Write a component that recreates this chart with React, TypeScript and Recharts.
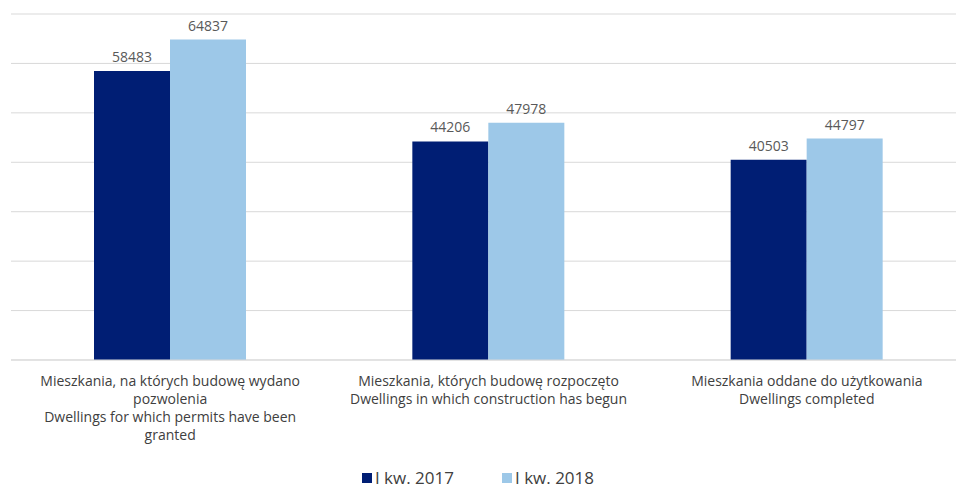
import React from 'react'
import { BarChart, Bar, XAxis, YAxis, CartesianGrid, Legend, LabelList } from 'recharts'

const categories = ['permits', 'started', 'completed']

const categoryLines: string[][] = [
  ['Mieszkania, na których budowę wydano', 'pozwolenia', 'Dwellings for which permits have been', 'granted'],
  ['Mieszkania, których budowę rozpoczęto', 'Dwellings in which construction has begun'],
  ['Mieszkania oddane do użytkowania', 'Dwellings completed'],
]

const q1_2017 = [58483, 44206, 40503]
const q1_2018 = [64837, 47978, 44797]

const seriesNames = ['I kw. 2017', 'I kw. 2018']
const seriesColors = ['#001e74', '#9dc8e8']

const yTicks = [0, 10000, 20000, 30000, 40000, 50000, 60000, 70000]

const FONT = '"Open Sans", sans-serif'

const data = categories.map((c, i) => ({
  key: c,
  a: q1_2017[i],
  b: q1_2018[i],
}))

function CategoryTick(props: any) {
  const { x, y, payload } = props
  const lines = categoryLines[payload.index] || []
  return (
    <g transform={`translate(${x},${y})`}>
      {lines.map((line, i) => (
        <text
          key={i}
          x={0}
          y={14 + i * 18}
          textAnchor="middle"
          dominantBaseline="middle"
          fill="#404040"
          fontSize={14}
          fontFamily={FONT}
        >
          {line}
        </text>
      ))}
    </g>
  )
}

function LegendContent() {
  return (
    <div style={{ display: 'flex', justifyContent: 'center', gap: 48, fontFamily: FONT, fontSize: 17, color: '#404040' }}>
      {seriesNames.map((name, i) => (
        <div key={name} style={{ display: 'flex', alignItems: 'center' }}>
          <span style={{ display: 'inline-block', width: 10, height: 10, background: seriesColors[i], marginRight: 3 }} />
          <span>{name}</span>
        </div>
      ))}
    </div>
  )
}

export default function App() {
  return (
    <div style={{ position: 'fixed', left: 0, top: 0, width: 956, height: 489, overflow: 'hidden', background: '#fff' }}>
      <BarChart
        width={966}
        height={489}
        data={data}
        margin={{ top: 14, right: 0, left: 11, bottom: 0 }}
        barCategoryGap={83}
        barGap={0}
      >
        <CartesianGrid vertical={false} stroke="#d9d9d9" />
        <YAxis hide domain={[0, 70000]} ticks={yTicks} />
        <XAxis
          dataKey="key"
          tick={<CategoryTick />}
          tickLine={false}
          axisLine={{ stroke: '#d9d9d9' }}
          height={100}
          interval={0}
        />
        <Legend
          verticalAlign="bottom"
          content={<LegendContent />}
          wrapperStyle={{ left: 0, width: 956, bottom: -6, height: 29 }}
        />
        <Bar dataKey="a" name={seriesNames[0]} fill={seriesColors[0]} isAnimationActive={false}>
          <LabelList dataKey="a" position="top" offset={9} fill="#595959" fontSize={14} fontFamily={FONT} />
        </Bar>
        <Bar dataKey="b" name={seriesNames[1]} fill={seriesColors[1]} isAnimationActive={false}>
          <LabelList dataKey="b" position="top" offset={9} fill="#595959" fontSize={14} fontFamily={FONT} />
        </Bar>
      </BarChart>
    </div>
  )
}
